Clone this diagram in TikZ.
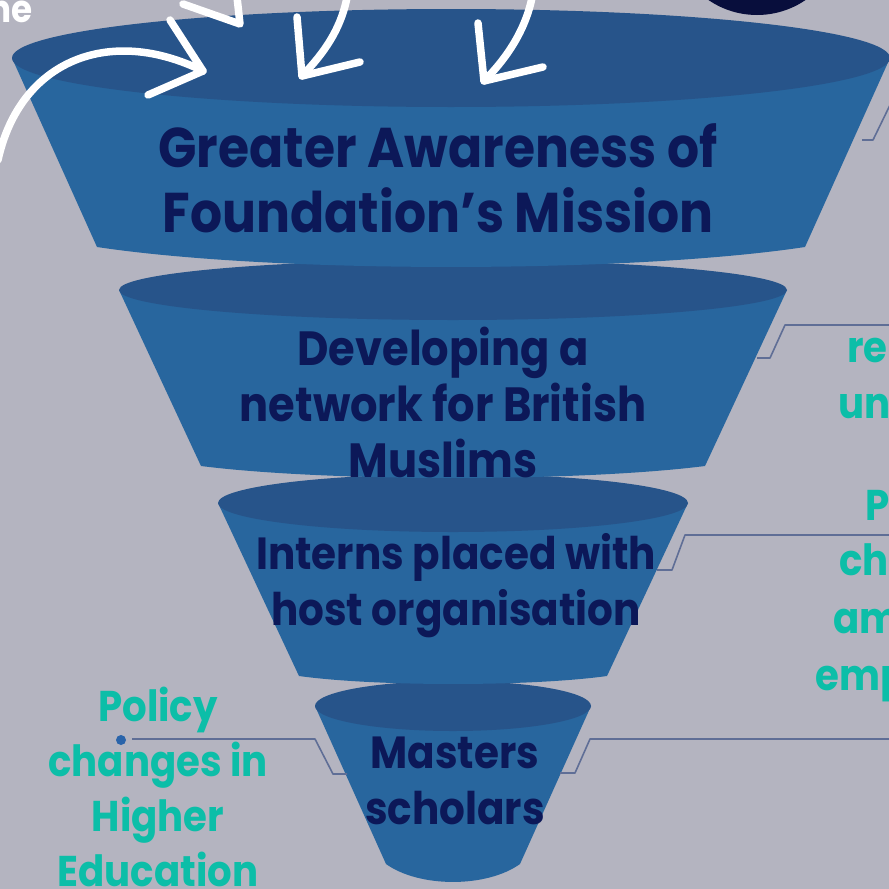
\documentclass[tikz,border=0pt]{standalone}
\usepackage{fontspec}
\usetikzlibrary{positioning,calc}
\newfontfamily\spartan{Poppins}[FakeStretch=0.9]
\definecolor{canvas}{RGB}{180,180,192}
\definecolor{FunnelBody}{RGB}{40,102,158}
\definecolor{FunnelRim}{RGB}{39,84,138}
\definecolor{DeepNavy}{RGB}{12,24,88}
\definecolor{Teal}{RGB}{12,190,168}
\definecolor{LeaderGray}{RGB}{95,110,150}
\definecolor{BadgeNavy}{RGB}{8,14,60}
\definecolor{DotBlue}{RGB}{42,100,170}
\tikzset{
  stagetext/.style={text=DeepNavy,align=center,inner sep=0pt,
                    font=\spartan\bfseries\fontsize{45}{56}\selectfont},
  outcome/.style={text=Teal,align=center,inner sep=0pt,
                  font=\spartan\bfseries\fontsize{43}{55}\selectfont},
  leader/.style={LeaderGray,line width=1.6pt,line join=round},
  doodle/.style={white,line width=7.5pt,line cap=round,line join=round},
}

\begin{document}
\begin{tikzpicture}[x=1pt,y=-1pt]
  \useasboundingbox (0,0) rectangle (889,889);
  \clip (0,0) rectangle (889,889);
  \fill[canvas] (0,0) rectangle (889,889);

  % badge peeking in at the top
  \fill[BadgeNavy] (757,-71) circle[radius=86];

  % funnel, bottom part first so each upper rim overlaps the next
  \foreach \cx/\cy/\rx/\ry/\bw/\by/\bb in {453/706/138/25/67/864/18,
                                           453/503/235/29/154/676/8,
                                           453/290/334/30/252/466/12,
                                           451/58/439/49/354/247/20}{
    \fill[FunnelBody] ({\cx-\rx},\cy) -- ({\cx-\bw},\by)
      .. controls ({\cx-0.5*\bw},{\by+1.33*\bb}) and ({\cx+0.5*\bw},{\by+1.33*\bb}) .. ({\cx+\bw},\by)
      -- ({\cx+\rx},\cy) -- cycle;
    \fill[FunnelRim] (\cx,\cy) ellipse[x radius=\rx,y radius=\ry];
  }

  \node[stagetext,font=\spartan\bfseries\fontsize{56}{65}\selectfont] (aware) at (438,178)
       {Greater Awareness of\\Foundation’s Mission};
  \node[stagetext,font=\spartan\bfseries\fontsize{48}{56}\selectfont] (network) at (443,402)
       {Developing a\\network for British\\Muslims};
  \node[stagetext] (interns) at (456,586) {Interns placed with\\host organisation};
  \node[stagetext] (masters) at (455,781) {Masters\\scholars};

  \node[outcome] (policy) at (158,787) {Policy\\changes in\\Higher\\Education};

  % outcomes running off the right edge
  \node[outcome,anchor=base west] (re) at (847,362) {re};
  \node[outcome,anchor=base west] (un) at (838,418) {un};
  \node[outcome,anchor=base west] (P) at (865,520) {P};
  \node[outcome,anchor=base west] (ch) at (839,575) {ch};
  \node[outcome,anchor=base west] (am) at (833,633) {am};
  \node[outcome,anchor=base west] (emp) at (815,690) {emp};

  \node[anchor=base east,text=white,inner sep=0pt,
        font=\spartan\bfseries\fontsize{38}{40}\selectfont] (ne) at (33,22) {ne};

  % leader lines
  \coordinate (wall1) at (862,140);
  \coordinate (wall2) at (757,358);
  \coordinate (wall3) at (657,570);
  \coordinate (wall4) at (560,773);
  \coordinate (wall4l) at (347,774);
  \coordinate (dot) at (121,740);
  \draw[leader] (wall1) -- ++(11,0) -- ++(17,-35) -- ++(20,0);
  \draw[leader] (wall2) -- ++(13,0) -- ++(15,-33) -- (re.west |- 0,325) -- ++(60,0);
  \draw[leader] (wall3) -- ++(15,0) -- ++(13,-35) -- ++(220,0);
  \draw[leader] (wall4) -- ++(15,0) -- ++(15,-34) -- ++(320,0);
  \draw[leader] (wall4l) -- ++(-14,0) -- ++(-18,-35) -- ($(dot)+(11,-1)$);
  \fill[DotBlue] (dot) circle[radius=5];

  % hand-drawn arrows dropping into the funnel
  \coordinate (tip1) at (203,71);
  \coordinate (tip2) at (240,24);
  \coordinate (tip3) at (302,76);
  \coordinate (tip4) at (484,81);
  \draw[doodle] (-2,160) .. controls (20,60) and (110,25) .. (tip1);
  \draw[doodle] (170,20) -- (tip1) -- (148,95);
  \draw[doodle] (183,4) -- (tip2) -- (236,-12);
  \draw[doodle] (348,-8) .. controls (342,30) and (322,55) .. (tip3);
  \draw[doodle] (297,17) -- (tip3) -- (360,62);
  \draw[doodle] (533,-8) .. controls (527,30) and (505,60) .. (tip4);
  \draw[doodle] (478,23) -- (tip4) -- (543,67);
\end{tikzpicture}
\end{document}
